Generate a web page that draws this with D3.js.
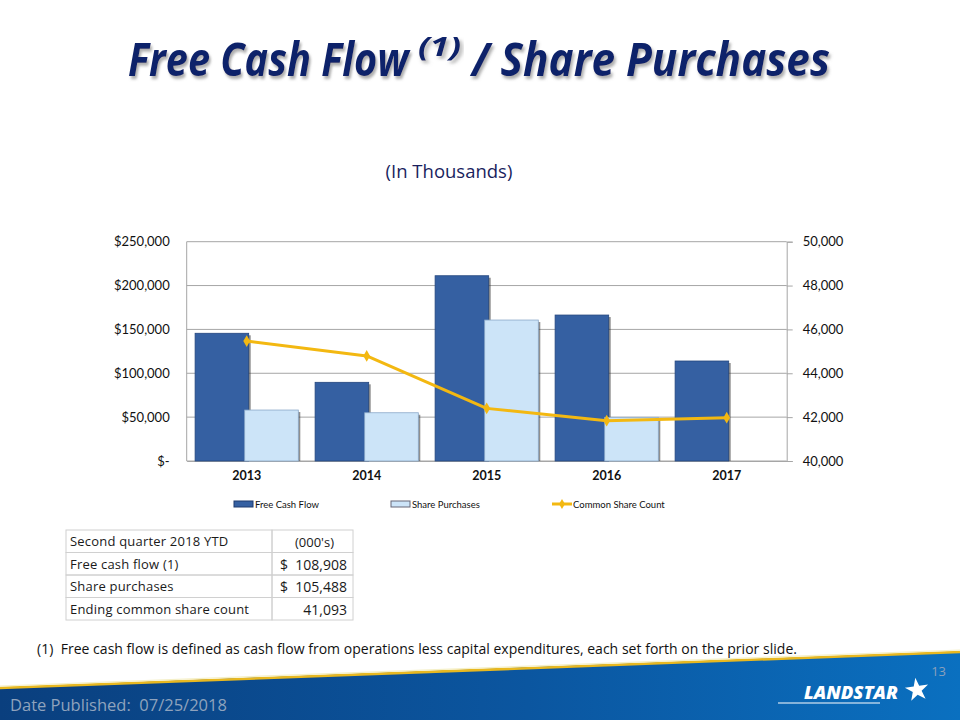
<!DOCTYPE html>
<html><head><meta charset="utf-8">
<script src="https://cdn.jsdelivr.net/npm/d3@7"></script>
<style>body{margin:0;background:#fff}svg{display:block}</style>
</head><body>
<svg id="c" width="960" height="720"></svg>
<script>
const years = ["2013","2014","2015","2016","2017"];
const freeCashFlow = [145600, 89700, 211200, 166400, 114000];
const sharePurchases = [58100, 55000, 160700, 49800, 0];
const shareCount = [45470, 44790, 42400, 41840, 41975];
const leftTicks = [0, 50000, 100000, 150000, 200000, 250000];
const rightTicks = [40000, 42000, 44000, 46000, 48000, 50000];
const tableRows = [["Second quarter 2018 YTD","(000's)"],["Free cash flow (1)","$  108,908"],["Share purchases","$  105,488"],["Ending common share count","41,093"]];
const seriesNames = ["Free Cash Flow","Share Purchases","Common Share Count"];

const svg = d3.select("#c");
const font = "Lato, 'Open Sans', sans-serif";
const defs = svg.append("defs");
const f = defs.append("filter").attr("id","tsh").attr("x","-5%").attr("y","-20%").attr("width","110%").attr("height","150%");
f.append("feDropShadow").attr("dx",2).attr("dy",3).attr("stdDeviation",1.5).attr("flood-color","#777").attr("flood-opacity",0.6);
const g1 = defs.append("linearGradient").attr("id","band").attr("x1","0").attr("x2","1").attr("y1","0").attr("y2","0");
g1.append("stop").attr("offset","0").attr("stop-color","#0a3f7e");
g1.append("stop").attr("offset","0.55").attr("stop-color","#0b56a0");
g1.append("stop").attr("offset","1").attr("stop-color","#0a70c0");

// Title: three pieces, each squeezed horizontally to its span in the reference
function titlePiece(txt, x0, x1, y, size) {
  const t = svg.append("text").attr("font-family","'Open Sans', sans-serif").attr("font-weight",700).attr("font-style","italic")
    .attr("font-size",size).attr("fill","#10226a").attr("filter","url(#tsh)").text(txt);
  const bb = t.node().getBBox();
  const s = (x1 - x0) / bb.width;
  t.attr("transform",`translate(${x0 - bb.x*s},${y}) scale(${s},1)`);
}
titlePiece("Free Cash Flow", 128, 411, 76, 46);
titlePiece("(1)", 418, 461, 56, 27);
titlePiece("/ Share Purchases", 469, 830, 76, 46);

svg.append("text").attr("x",449).attr("y",178).attr("text-anchor","middle")
  .attr("font-family","'Open Sans', sans-serif").attr("font-size",18.5).attr("fill","#1a1f5e").text("(In Thousands)");

// Chart
const L = 186.7, R = 786.7, T = 241.7, B = 461;
const x = d3.scaleBand().domain(years).range([L, R]);
const yL = d3.scaleLinear().domain([0, 250000]).range([B, T]);
const yR = d3.scaleLinear().domain([40000, 50000]).range([B, T]);
const sub = d3.scaleBand().domain(["fcf","sp"]).range([x.bandwidth()*0.07, x.bandwidth()*0.93]);

const grid = svg.append("g");
leftTicks.forEach(t => grid.append("line").attr("x1",L).attr("x2",R).attr("y1",yL(t)).attr("y2",yL(t)).attr("stroke","#a6a6a6").attr("stroke-width",1));
svg.append("line").attr("x1",L).attr("x2",L).attr("y1",T).attr("y2",B).attr("stroke","#a6a6a6");

const axL = svg.append("g").attr("transform",`translate(${L-14},0)`)
  .call(d3.axisLeft(yL).tickValues(leftTicks).tickSize(0).tickFormat(d => d === 0 ? "$-" : "$" + d3.format(",")(d)));
axL.select(".domain").remove();
axL.selectAll("text").attr("font-family",font).attr("font-size",13).attr("fill","#111").attr("dx",0);

const axR = svg.append("g").attr("transform",`translate(${R},0)`)
  .call(d3.axisRight(yR).tickValues(rightTicks).tickSize(6).tickPadding(10).tickFormat(d3.format(",")));
axR.select(".domain").attr("stroke","#a6a6a6");
axR.selectAll("line").attr("stroke","#a6a6a6");
axR.selectAll("text").attr("font-family",font).attr("font-size",13).attr("fill","#111");

const axB = svg.append("g").attr("transform",`translate(0,${B})`).call(d3.axisBottom(x).tickSize(0).tickPadding(10));
axB.select(".domain").attr("stroke","#a6a6a6");
axB.selectAll("text").attr("font-family",font).attr("font-size",12.5).attr("font-weight",700).attr("fill","#111");

const bw = sub.bandwidth() + 2;
function bars(vals, key, fill, edge) {
  const g = svg.append("g");
  vals.forEach((v, i) => {
    if (v <= 0) return;
    const bx = x(years[i]) + sub(key) - (key === "sp" ? 2 : 0);
    g.append("rect").attr("x", bx + 2).attr("y", yL(v) + 2).attr("width", bw).attr("height", B - yL(v) - 2).attr("fill", "#333").attr("opacity",0.55);
    g.append("rect").attr("x", bx).attr("y", yL(v)).attr("width", bw).attr("height", B - yL(v)).attr("fill", fill).attr("stroke", edge).attr("stroke-width",0.8);
  });
}
bars(freeCashFlow, "fcf", "#3560a2", "#24467e");
bars(sharePurchases, "sp", "#cce4f8", "#8aa8c8");

const line = d3.line().x((d,i) => x(years[i]) + x.bandwidth()/2).y(d => yR(d));
svg.append("path").datum(shareCount).attr("d", line).attr("fill","none").attr("stroke","#f3b811").attr("stroke-width",3).attr("stroke-linejoin","round");
svg.append("g").selectAll("path").data(shareCount).join("path")
  .attr("transform",(d,i) => `translate(${x(years[i]) + x.bandwidth()/2},${yR(d)})`)
  .attr("d", d3.symbol().type(d3.symbolDiamond).size(40)).attr("fill","#f3b811");

// Legend
const lg = svg.append("g").attr("font-family",font).attr("font-size",9.5).attr("fill","#111");
const lx = [234, 391, 552];
lg.append("rect").attr("x",lx[0]).attr("y",501).attr("width",19).attr("height",6).attr("fill","#3560a2").attr("stroke","#1e3a6e");
lg.append("rect").attr("x",lx[1]).attr("y",501).attr("width",19).attr("height",6).attr("fill","#cce4f8").attr("stroke","#667");
lg.append("line").attr("x1",lx[2]).attr("x2",lx[2]+20).attr("y1",504).attr("y2",504).attr("stroke","#f3b811").attr("stroke-width",3);
lg.append("path").attr("transform",`translate(${lx[2]+10},504)`).attr("d",d3.symbol().type(d3.symbolDiamond).size(30)).attr("fill","#f3b811");
seriesNames.forEach((n,i) => lg.append("text").attr("x",lx[i] + 21).attr("y",508).text(n));

// Table
const tx0 = 66, tx1 = 272, tx2 = 353, ty0 = 530, rh = 22.5;
const tg = svg.append("g").attr("font-family","'Open Sans', sans-serif").attr("font-size",13).attr("fill","#1a1a1a");
tableRows.forEach((r, i) => {
  const y0 = ty0 + i*rh;
  tg.append("rect").attr("x",tx0).attr("y",y0).attr("width",tx1-tx0).attr("height",rh).attr("fill","none").attr("stroke","#d0d0d0");
  tg.append("rect").attr("x",tx1).attr("y",y0).attr("width",tx2-tx1).attr("height",rh).attr("fill","none").attr("stroke","#d0d0d0");
  tg.append("text").attr("x",tx0+4).attr("y",y0+16).attr("letter-spacing",0.2).text(r[0]);
  const t = tg.append("text").attr("y",y0+17).text(r[1]);
  if (i === 0) t.attr("x",(tx1+tx2)/2 + 2).attr("text-anchor","middle");
  else t.attr("x",tx2-6).attr("text-anchor","end").attr("font-size",14).attr("xml:space","preserve");
});

// Footnote
svg.append("text").attr("x",37).attr("y",654).attr("font-family","'Open Sans', sans-serif").attr("font-size",14).attr("fill","#111")
  .attr("xml:space","preserve").attr("textLength",760).attr("lengthAdjust","spacing")
  .text("(1)  Free cash flow is defined as cash flow from operations less capital expenditures, each set forth on the prior slide.");

// Footer band
svg.append("path").attr("d","M0,688 Q480,668 960,652 L960,720 L0,720 Z").attr("fill","url(#band)");
svg.append("path").attr("d","M0,688 Q480,668 960,652").attr("fill","none").attr("stroke","#e8b820").attr("stroke-width",2.5);
svg.append("path").attr("d","M0,686 Q480,666 960,650").attr("fill","none").attr("stroke","#f5f0c8").attr("stroke-width",1.2);
svg.append("text").attr("x",10).attr("y",711).attr("font-family","'Open Sans', sans-serif").attr("font-size",16.5).attr("fill","#8fa3bd")
  .attr("xml:space","preserve").text("Date Published:  07/25/2018");
svg.append("text").attr("x",946).attr("y",676).attr("text-anchor","end").attr("font-family","'Open Sans', sans-serif").attr("font-size",13).attr("fill","#8aa0bc").text("13");
// Logo
svg.append("text").attr("x",804).attr("y",699).attr("font-family","'Open Sans', sans-serif").attr("font-weight",800).attr("font-style","italic").attr("font-size",17).attr("fill","#fff")
  .attr("textLength",94).attr("lengthAdjust","spacingAndGlyphs").text("LANDSTAR");
svg.append("line").attr("x1",778).attr("x2",880).attr("y1",703).attr("y2",703).attr("stroke","#fff").attr("stroke-width",1.2);
svg.append("path").attr("transform","translate(917,690) rotate(-8)").attr("d",d3.symbol().type(d3.symbolStar).size(170)).attr("fill","#fff");
</script>
</body></html>
